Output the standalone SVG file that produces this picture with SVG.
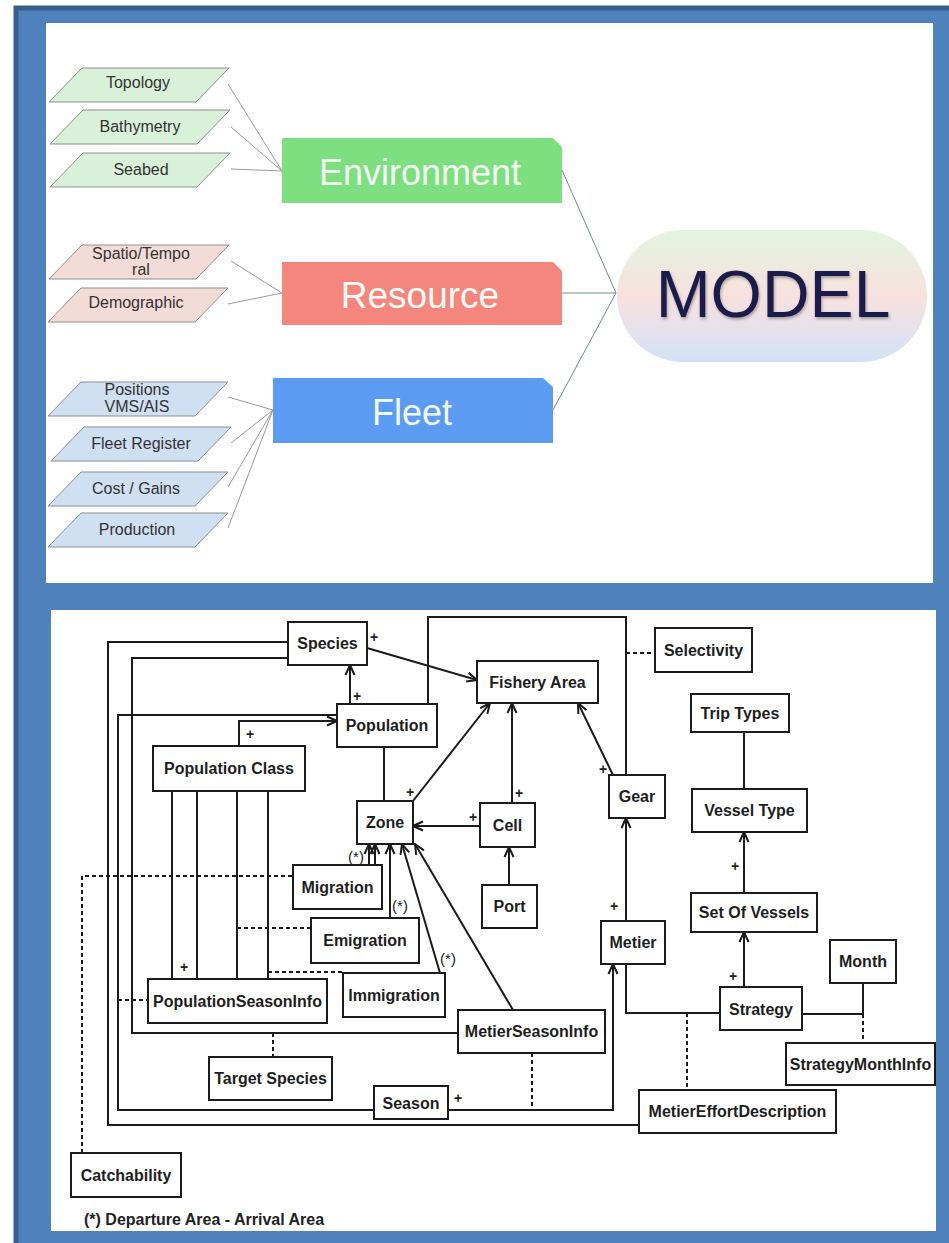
<svg xmlns="http://www.w3.org/2000/svg" width="949" height="1243" viewBox="0 0 949 1243">
  <defs>
    <linearGradient id="modelFill" x1="0" y1="0" x2="0" y2="1">
      <stop offset="0" stop-color="#e3f4df"/>
      <stop offset="0.5" stop-color="#f8e1df"/>
      <stop offset="1" stop-color="#d3e2f5"/>
    </linearGradient>
    <filter id="textShadow" x="-10%" y="-20%" width="120%" height="150%">
      <feDropShadow dx="1" dy="2" stdDeviation="1.5" flood-color="#000" flood-opacity="0.3"/>
    </filter>
    <marker id="arrow" viewBox="0 0 12 12" refX="11" refY="6" markerWidth="12" markerHeight="12" markerUnits="userSpaceOnUse" orient="auto">
      <path d="M1,1.5 L11,6 L1,10.5" fill="none" stroke="#1b1b1b" stroke-width="2"/>
    </marker>
  </defs>
  <style>
    .frame { fill: #4f81bd; stroke: #3a5f8e; stroke-width: 5; }
    .panel { fill: #ffffff; }
    .src { stroke: #8f8f8f; stroke-width: 1; }
    .src-g { fill: #d9f1d8; }
    .src-r { fill: #f3dcd8; }
    .src-b { fill: #cfe0f2; }
    .src-label { font-family: "Liberation Sans", Arial, sans-serif; font-size: 16px; fill: #333; text-anchor: middle; }
    .feed { stroke: #9a9a9a; stroke-width: 1; fill: none; }
    .feed-model { stroke: #6f8d8d; stroke-width: 1; fill: none; }
    .cat-label { font-family: "Liberation Sans", Arial, sans-serif; fill: #f4fbf4; text-anchor: middle; }
    .uml rect { fill: #ffffff; stroke: #1b1b1b; stroke-width: 2; }
    .uml text { font-family: "Liberation Sans", Arial, sans-serif; font-weight: bold; font-size: 16px; fill: #1e1e1e; text-anchor: middle; }
    .conn path, .conn line { fill: none; stroke: #1b1b1b; stroke-width: 2; }
    .conn .dash { stroke-dasharray: 4 3; }
    .conn .arr { marker-end: url(#arrow); }
    .plus { font-family: "Liberation Sans", Arial, sans-serif; font-weight: bold; font-size: 14px; fill: #222; text-anchor: middle; }
    .star { font-family: "Liberation Sans", Arial, sans-serif; font-size: 15px; fill: #222; text-anchor: middle; }
    .note { font-family: "Liberation Sans", Arial, sans-serif; font-weight: bold; font-size: 16px; fill: #222; }
  </style>

  <!-- background frame and two white panels -->
  <rect class="frame" x="16" y="8" width="960" height="1260"/>
  <rect class="panel" x="46" y="23" width="887" height="560"/>
  <rect class="panel" x="51" y="610" width="885" height="621"/>

  <!-- ===== overview: data sources -> categories -> model ===== -->
  <g id="feeds">
    <line class="feed" x1="228" y1="84" x2="282" y2="171"/>
    <line class="feed" x1="231" y1="127" x2="282" y2="171"/>
    <line class="feed" x1="231" y1="169" x2="282" y2="171"/>
    <line class="feed" x1="231" y1="261" x2="282" y2="293"/>
    <line class="feed" x1="228" y1="304" x2="282" y2="293"/>
    <line class="feed" x1="228" y1="397" x2="273" y2="410"/>
    <line class="feed" x1="231" y1="443" x2="273" y2="410"/>
    <line class="feed" x1="228" y1="487" x2="273" y2="410"/>
    <line class="feed" x1="228" y1="528" x2="273" y2="410"/>
    <line class="feed-model" x1="562" y1="170" x2="616" y2="293"/>
    <line class="feed-model" x1="562" y1="293" x2="616" y2="293"/>
    <line class="feed-model" x1="553" y1="410" x2="616" y2="293"/>
  </g>

  <g id="src-topology">
    <polygon class="src src-g" points="82,68 229,68 196,102 49,102"/>
    <text class="src-label" x="138" y="88">Topology</text>
  </g>
  <g id="src-bathymetry">
    <polygon class="src src-g" points="83,110 230,110 197,144 50,144"/>
    <text class="src-label" x="140" y="132">Bathymetry</text>
  </g>
  <g id="src-seabed">
    <polygon class="src src-g" points="83,153 230,153 197,187 50,187"/>
    <text class="src-label" x="141" y="175">Seabed</text>
  </g>
  <g id="src-spatiotemporal">
    <polygon class="src src-r" points="82,245 229,245 196,279 49,279"/>
    <text class="src-label" x="141" y="259">Spatio/Tempo</text>
    <text class="src-label" x="141" y="275">ral</text>
  </g>
  <g id="src-demographic">
    <polygon class="src src-r" points="81,288 228,288 195,322 48,322"/>
    <text class="src-label" x="136" y="308">Demographic</text>
  </g>
  <g id="src-positions">
    <polygon class="src src-b" points="81,382 228,382 195,416 48,416"/>
    <text class="src-label" x="137" y="395">Positions</text>
    <text class="src-label" x="137" y="412">VMS/AIS</text>
  </g>
  <g id="src-fleet-register">
    <polygon class="src src-b" points="84,427 231,427 198,461 51,461"/>
    <text class="src-label" x="141" y="449">Fleet Register</text>
  </g>
  <g id="src-cost-gains">
    <polygon class="src src-b" points="81,472 228,472 195,506 48,506"/>
    <text class="src-label" x="136" y="494">Cost / Gains</text>
  </g>
  <g id="src-production">
    <polygon class="src src-b" points="81,513 228,513 195,547 48,547"/>
    <text class="src-label" x="137" y="535">Production</text>
  </g>

  <g id="cat-environment">
    <polygon fill="#7ddf80" points="282,138 553,138 562,147 562,203 282,203"/>
    <text class="cat-label" x="420" y="185" font-size="36">Environment</text>
  </g>
  <g id="cat-resource">
    <polygon fill="#f4867d" points="282,262 553,262 562,271 562,325 282,325"/>
    <text class="cat-label" x="420" y="308" font-size="37">Resource</text>
  </g>
  <g id="cat-fleet">
    <polygon fill="#5b9bf1" points="273,378 543,378 553,387 553,443 273,443"/>
    <text class="cat-label" x="412" y="425" font-size="36">Fleet</text>
  </g>

  <g id="model">
    <rect x="617" y="230" width="310" height="132" rx="66" ry="66" fill="url(#modelFill)"/>
    <text x="773" y="317" font-family="Liberation Sans, Arial, sans-serif" font-size="66" fill="#1d1f4b" text-anchor="middle" filter="url(#textShadow)">MODEL</text>
  </g>

  <!-- ===== class diagram: connectors ===== -->
  <g id="connectors" class="conn">
    <!-- long routes round the left side -->
    <path d="M288,642 H108 V1125 H639"/>
    <path d="M288,658 H132 V1033 H458"/>
    <path d="M337,715 H118 V1110 H374"/>
    <path class="arr" d="M448,1110 H613 V964"/>
    <path class="arr" d="M239,746 V721 H337"/>
    <!-- population / species / fishery area -->
    <path class="arr" d="M350,704 V665"/>
    <path class="arr" d="M367,648 L477,680"/>
    <path d="M428,704 V617 H626 V775"/>
    <path class="dash" d="M626,653 H655"/>
    <path d="M384,747 V801"/>
    <path class="arr" d="M413,801 L490,703"/>
    <path class="arr" d="M512,803 V703"/>
    <path class="arr" d="M480,826 H413"/>
    <path class="arr" d="M509,885 V847"/>
    <path class="arr" d="M613,775 L578,703"/>
    <!-- metier / strategy / vessels -->
    <path class="arr" d="M626,921 V818"/>
    <path d="M626,964 V1013 H720"/>
    <path class="dash" d="M687,1013 V1090"/>
    <path class="arr" d="M744,987 V932"/>
    <path class="arr" d="M744,893 V832"/>
    <path d="M744,789 V732"/>
    <path d="M802,1014 H863 M863,983 V1014"/>
    <path class="dash" d="M863,1014 V1043"/>
    <!-- population class to season info -->
    <path d="M172,791 V979 M197,791 V979 M237,791 V979 M268,791 V979"/>
    <path class="dash" d="M82,1153 V876 H293"/>
    <path class="dash" d="M237,928 H311"/>
    <path class="dash" d="M268,972 H343"/>
    <path class="dash" d="M118,1000 H148"/>
    <path class="dash" d="M273,1033 V1057"/>
    <path class="dash" d="M532,1053 V1110"/>
    <!-- movements into zone -->
    <path class="arr" d="M369,865 V844"/>
    <path class="arr" d="M375,865 V844"/>
    <path class="arr" d="M390,918 V844"/>
    <path class="arr" d="M440,973 L402,844"/>
    <path class="arr" d="M513,1010 L415,844"/>
  </g>

  <g id="multiplicities">
    <text class="plus" x="374" y="642">+</text>
    <text class="plus" x="357" y="701">+</text>
    <text class="plus" x="250" y="739">+</text>
    <text class="plus" x="410" y="797">+</text>
    <text class="plus" x="519" y="798">+</text>
    <text class="plus" x="473" y="822">+</text>
    <text class="plus" x="603" y="774">+</text>
    <text class="plus" x="614" y="911">+</text>
    <text class="plus" x="733" y="981">+</text>
    <text class="plus" x="735" y="871">+</text>
    <text class="plus" x="184" y="972">+</text>
    <text class="plus" x="458" y="1103">+</text>
    <text class="star" x="356" y="862">(*)</text>
    <text class="star" x="400" y="911">(*)</text>
    <text class="star" x="448" y="964">(*)</text>
  </g>

  <!-- ===== class diagram: classes ===== -->
  <g id="species" class="uml"><rect x="288" y="622" width="79" height="43"/><text x="327.5" y="649">Species</text></g>
  <g id="fishery-area" class="uml"><rect x="477" y="661" width="121" height="42"/><text x="537.5" y="688">Fishery Area</text></g>
  <g id="population" class="uml"><rect x="337" y="704" width="100" height="43"/><text x="387" y="731">Population</text></g>
  <g id="population-class" class="uml"><rect x="153" y="746" width="152" height="45"/><text x="229" y="774">Population Class</text></g>
  <g id="zone" class="uml"><rect x="357" y="801" width="56" height="43"/><text x="385" y="828">Zone</text></g>
  <g id="cell" class="uml"><rect x="480" y="803" width="55" height="44"/><text x="507.5" y="831">Cell</text></g>
  <g id="gear" class="uml"><rect x="609" y="775" width="56" height="43"/><text x="637" y="802">Gear</text></g>
  <g id="selectivity" class="uml"><rect x="655" y="628" width="97" height="44"/><text x="703.5" y="656">Selectivity</text></g>
  <g id="trip-types" class="uml"><rect x="691" y="694" width="98" height="38"/><text x="740" y="719">Trip Types</text></g>
  <g id="vessel-type" class="uml"><rect x="692" y="789" width="115" height="43"/><text x="749.5" y="816">Vessel Type</text></g>
  <g id="set-of-vessels" class="uml"><rect x="691" y="893" width="126" height="39"/><text x="754" y="918">Set Of Vessels</text></g>
  <g id="month" class="uml"><rect x="830" y="940" width="66" height="43"/><text x="863" y="967">Month</text></g>
  <g id="strategy" class="uml"><rect x="720" y="987" width="82" height="43"/><text x="761" y="1015">Strategy</text></g>
  <g id="strategy-month-info" class="uml"><rect x="786" y="1043" width="149" height="42"/><text x="860.5" y="1070">StrategyMonthInfo</text></g>
  <g id="metier-effort-description" class="uml"><rect x="639" y="1090" width="197" height="43"/><text x="737.5" y="1117">MetierEffortDescription</text></g>
  <g id="metier" class="uml"><rect x="601" y="921" width="64" height="43"/><text x="633" y="948">Metier</text></g>
  <g id="port" class="uml"><rect x="482" y="885" width="55" height="43"/><text x="509.5" y="912">Port</text></g>
  <g id="migration" class="uml"><rect x="293" y="865" width="89" height="44"/><text x="337.5" y="893">Migration</text></g>
  <g id="emigration" class="uml"><rect x="311" y="918" width="108" height="45"/><text x="365" y="946">Emigration</text></g>
  <g id="immigration" class="uml"><rect x="343" y="973" width="102" height="44"/><text x="394" y="1001">Immigration</text></g>
  <g id="population-season-info" class="uml"><rect x="148" y="979" width="179" height="44"/><text x="237.5" y="1007">PopulationSeasonInfo</text></g>
  <g id="metier-season-info" class="uml"><rect x="458" y="1010" width="147" height="43"/><text x="531.5" y="1037">MetierSeasonInfo</text></g>
  <g id="target-species" class="uml"><rect x="209" y="1057" width="123" height="43"/><text x="270.5" y="1084">Target Species</text></g>
  <g id="season" class="uml"><rect x="374" y="1086" width="74" height="33"/><text x="411" y="1109">Season</text></g>
  <g id="catchability" class="uml"><rect x="71" y="1153" width="110" height="44"/><text x="126" y="1181">Catchability</text></g>

  <text class="note" x="84" y="1225">(*) Departure Area - Arrival Area</text>
</svg>
